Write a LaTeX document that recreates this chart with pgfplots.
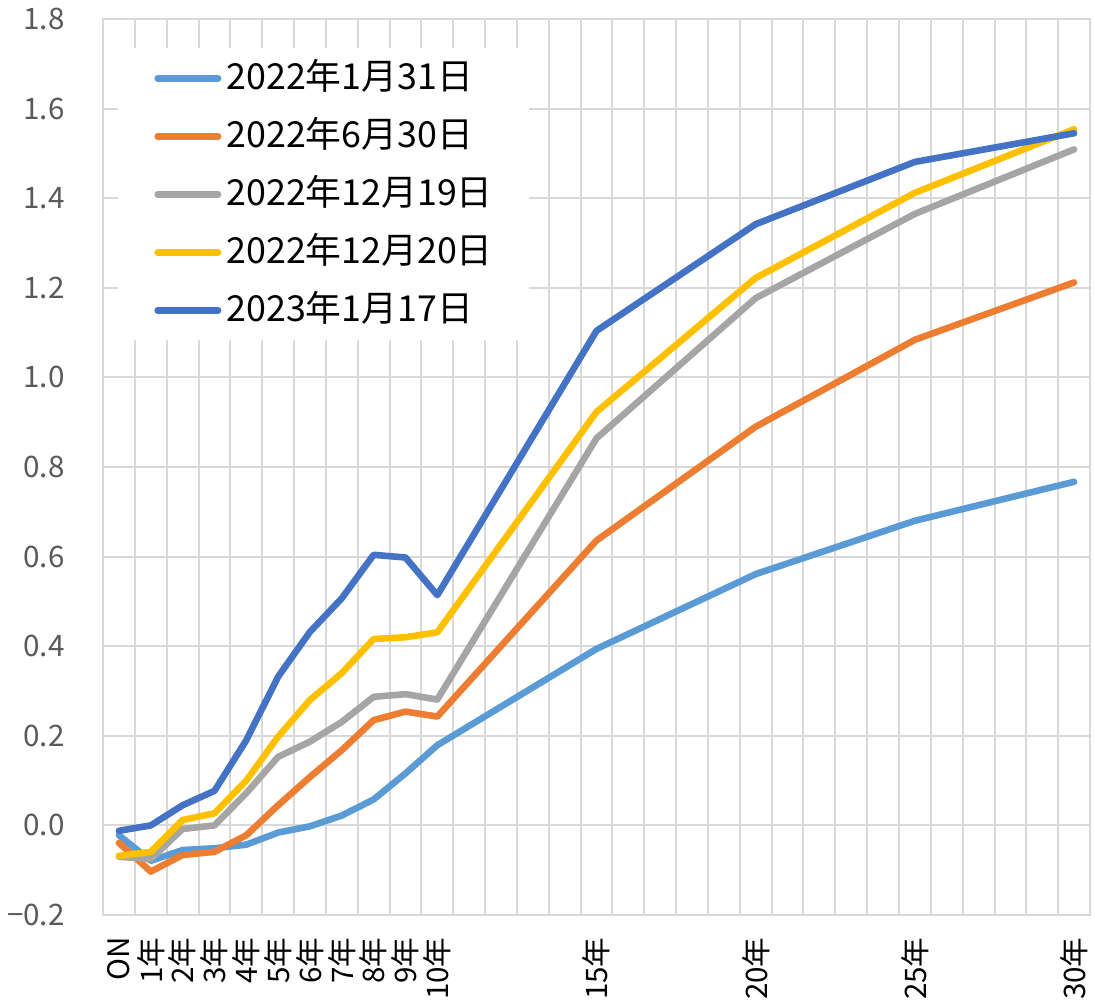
\documentclass[border=0pt]{standalone}
\usepackage{fontspec}
\setmainfont{Noto Sans CJK JP}
\usepackage{pgfplots}
\pgfplotsset{compat=1.18}
\definecolor{gridc}{HTML}{D9D9D9}
\definecolor{tickc}{HTML}{595959}
\definecolor{sA}{HTML}{5B9BD5}
\definecolor{sB}{HTML}{ED7D31}
\definecolor{sC}{HTML}{A5A5A5}
\definecolor{sD}{HTML}{FFC000}
\definecolor{sE}{HTML}{4472C4}
\begin{document}
\begin{tikzpicture}
\begin{axis}[
  name=ax,
  scale only axis,
  width=493.5pt, height=448pt,
  xmin=-0.5, xmax=30.5, ymin=-0.2, ymax=1.8,
  xtick={0,1,2,3,4,5,6,7,8,9,10,15,20,25,30},
  xticklabels={ON,1年,2年,3年,4年,5年,6年,7年,8年,9年,10年,15年,20年,25年,30年},
  minor xtick={-0.5,0.5,...,30.5},
  ytick={-0.2,0,0.2,0.4,0.6,0.8,1.0,1.2,1.4,1.6,1.8},
  yticklabels={−0.2,0.0,0.2,0.4,0.6,0.8,1.0,1.2,1.4,1.6,1.8},
  xmajorgrids=false, xminorgrids=true, ymajorgrids=true,
  grid style={gridc, line width=1pt},
  minor grid style={gridc, line width=1pt},
  major tick length=0pt, minor tick length=0pt,
  axis line style={gridc, line width=1pt},
  tick label style={font=\fontsize{14.8}{16}\selectfont},
  yticklabel style={tickc, anchor=east, inner sep=0pt, xshift=-19pt},
  xticklabel style={black, rotate=90, anchor=east, inner sep=0pt, xshift=-11pt},
  legend style={
    at={(axis description cs:0,1)}, anchor=north west,
    xshift=7.5pt, yshift=-14.5pt,
    draw=none, fill=white,
    inner xsep=18pt, inner ysep=7pt,
    row sep=13pt,
    font=\fontsize{17.9}{20}\selectfont,
    nodes={inner sep=0pt, text height=13.5pt, text depth=2.5pt},
    /tikz/every odd column/.style={column sep=2.5pt},
  },
  legend cell align=left,
  legend image code/.code={\draw[#1, line width=3.3pt, line cap=round] (0pt,0pt) -- (30.2pt,0pt);},
  every axis plot/.append style={line width=3.3pt, line join=round, line cap=round, no marks},
]
\addplot[sA] coordinates {(0,-0.022)(1,-0.079)(2,-0.055)(3,-0.051)(4,-0.043)(5,-0.016)(6,-0.002)(7,0.022)(8,0.058)(9,0.116)(10,0.179)(15,0.394)(20,0.561)(25,0.680)(30,0.767)};
\addlegendentry{2022年1月31日}
\addplot[sB] coordinates {(0,-0.039)(1,-0.103)(2,-0.066)(3,-0.059)(4,-0.022)(5,0.045)(6,0.108)(7,0.168)(8,0.235)(9,0.254)(10,0.243)(15,0.636)(20,0.890)(25,1.084)(30,1.212)};
\addlegendentry{2022年6月30日}
\addplot[sC] coordinates {(0,-0.070)(1,-0.075)(2,-0.008)(3,0.000)(4,0.072)(5,0.153)(6,0.187)(7,0.231)(8,0.287)(9,0.293)(10,0.281)(15,0.864)(20,1.177)(25,1.365)(30,1.509)};
\addlegendentry{2022年12月19日}
\addplot[sD] coordinates {(0,-0.068)(1,-0.059)(2,0.012)(3,0.027)(4,0.100)(5,0.198)(6,0.280)(7,0.340)(8,0.416)(9,0.420)(10,0.431)(15,0.923)(20,1.222)(25,1.412)(30,1.554)};
\addlegendentry{2022年12月20日}
\addplot[sE] coordinates {(0,-0.012)(1,0.000)(2,0.045)(3,0.077)(4,0.190)(5,0.332)(6,0.432)(7,0.507)(8,0.604)(9,0.598)(10,0.514)(15,1.104)(20,1.342)(25,1.481)(30,1.545)};
\addlegendentry{2023年1月17日}
\end{axis}
\pgfresetboundingbox
\path ([xshift=-51.5pt,yshift=-46pt]ax.south west) rectangle ([xshift=2.5pt,yshift=9.5pt]ax.north east);
\end{tikzpicture}
\end{document}
